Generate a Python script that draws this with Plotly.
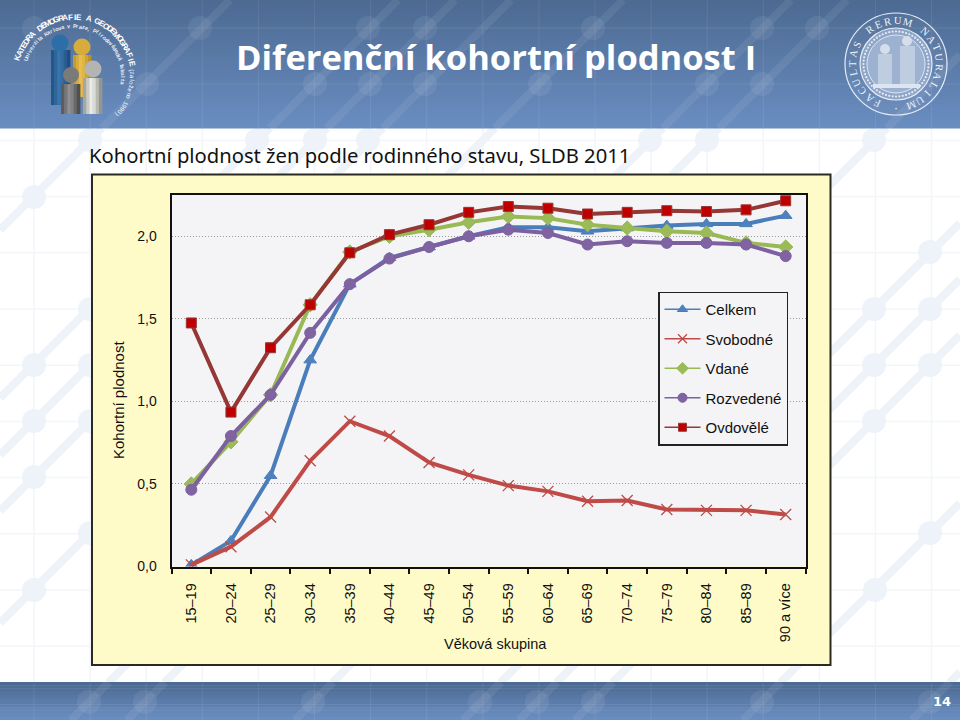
import math
import plotly.graph_objects as go

categories = ["15–19", "20–24", "25–29", "30–34", "35–39", "40–44", "45–49", "50–54",
              "55–59", "60–64", "65–69", "70–74", "75–79", "80–84", "85–89", "90 a více"]
celkem = [0.01, 0.155, 0.55, 1.25, 1.71, 1.87, 1.935, 2.0, 2.055, 2.055, 2.03, 2.05, 2.065, 2.075, 2.075, 2.125]
svobodne = [0.01, 0.12, 0.30, 0.64, 0.88, 0.79, 0.63, 0.555, 0.49, 0.455, 0.395, 0.40, 0.345, 0.34, 0.34, 0.315]
vdane = [0.50, 0.755, 1.04, 1.585, 1.905, 2.0, 2.04, 2.085, 2.12, 2.11, 2.07, 2.05, 2.03, 2.02, 1.96, 1.935]
rozvedene = [0.465, 0.79, 1.04, 1.415, 1.71, 1.865, 1.935, 2.0, 2.04, 2.02, 1.95, 1.97, 1.96, 1.96, 1.95, 1.88]
ovdovele = [1.475, 0.935, 1.325, 1.585, 1.90, 2.01, 2.07, 2.145, 2.18, 2.17, 2.135, 2.145, 2.155, 2.15, 2.16, 2.215]
y_ticks = [0, 0.5, 1.0, 1.5, 2.0]
y_labels = ["0,0", "0,5", "1,0", "1,5", "2,0"]

W, H = 960, 720
shapes, notes = [], []


def px(x):
    return x / W


def py(y):
    return 1 - y / H


def rect(x0, y0, x1, y1, fill, line=None, lw=0):
    shapes.append(dict(type="rect", xref="paper", yref="paper", layer="below",
                       x0=px(x0), x1=px(x1), y0=py(y1), y1=py(y0), fillcolor=fill,
                       line=dict(color=line or "rgba(0,0,0,0)", width=lw)))


def circle(cx, cy, r, fill, line=None, lw=0):
    shapes.append(dict(type="circle", xref="paper", yref="paper", layer="below",
                       x0=px(cx - r), x1=px(cx + r), y0=py(cy + r), y1=py(cy - r), fillcolor=fill,
                       line=dict(color=line or "rgba(0,0,0,0)", width=lw)))


def seg(x0, y0, x1, y1, color, w):
    shapes.append(dict(type="line", xref="paper", yref="paper", layer="below",
                       x0=px(x0), x1=px(x1), y0=py(y0), y1=py(y1), line=dict(color=color, width=w)))


def text(x, y, s, size, color, family="Liberation Sans", angle=0, anchor="center", bold=False):
    notes.append(dict(xref="paper", yref="paper", x=px(x), y=py(y), text=f"<b>{s}</b>" if bold else s,
                      showarrow=False, xanchor=anchor, yanchor="middle", textangle=angle,
                      font=dict(size=size, color=color, family=family)))


def arc_text(s, cx, cy, r, a0, a1, size, color, family="Liberation Sans", bold=False):
    n = len(s)
    for i, ch in enumerate(s):
        if ch == " ":
            continue
        a = a0 + (a1 - a0) * i / (n - 1)
        t = math.radians(a)
        ang = a % 360
        if ang > 180:
            ang -= 360
        text(cx + r * math.sin(t), cy - r * math.cos(t), ch, size, color, family, ang, bold=bold)


def cylinder(x0, y0, x1, y1, edge, mid):
    n = 6
    for i in range(n):
        f = abs(i - (n - 1) * 0.45) / ((n - 1) * 0.55)
        c = [round(mid[k] + (edge[k] - mid[k]) * min(f, 1)) for k in range(3)]
        a = x0 + (x1 - x0) * i / n
        rect(a, y0, a + (x1 - x0) / n + 0.4, y1, f"rgb({c[0]},{c[1]},{c[2]})")


# page background pattern
GX = [34 + 56.1 * k for k in range(17)]
GY = [28 + 56.2 * k for k in range(13)]
DIAG = [230, 398, 455, 511, 623, 791, 847, 1015, 1183, 1239, 1295, 1463, 1632]
for gx in GX:
    seg(gx, 128, gx, 683, "#F3F5F8", 1.5)
for gy in GY[2:12]:
    seg(0, gy, W, gy, "#F3F5F8", 1.5)
for c in DIAG:
    y0 = min(c, 683)
    seg(c - y0, y0, c - 128 if c - 128 < W else W, 128 if c - 128 < W else c - W, "#EEF2F9", 8)
BODY_NODES = [(34, 197), (90, 140), (257, 140), (315, 140), (368, 140), (650, 140), (707, 140), (874, 140),
              (90, 309), (34, 365), (90, 365), (34, 421), (90, 421), (34, 477), (90, 533), (34, 590),
              (930, 252), (874, 309), (930, 309), (874, 365), (930, 365), (874, 421), (930, 533), (875, 590)]
for nx, ny in BODY_NODES:
    circle(nx, ny, 12, "#EEF2F9")


def band(y0, y1, top, bottom, steps):
    for i in range(steps):
        f = i / (steps - 1)
        c = [round(top[k] + (bottom[k] - top[k]) * f) for k in range(3)]
        a = y0 + (y1 - y0) * i / steps
        b = y0 + (y1 - y0) * (i + 1) / steps + 0.5
        rect(0, a, W, b, f"rgb({c[0]},{c[1]},{c[2]})")


band(0, 128, (76, 106, 146), (106, 141, 192), 32)
band(682, 720, (76, 106, 146), (106, 141, 192), 12)
for gx in GX:
    seg(gx, 0, gx, 128, "rgba(255,255,255,0.07)", 1.2)
    seg(gx, 682, gx, 720, "rgba(255,255,255,0.07)", 1.2)
for gy in (28, 84, 710):
    seg(0, gy, W, gy, "rgba(255,255,255,0.09)", 1.2)
for c in DIAG:
    if c < W + 128:
        y1 = max(0, c - W)
        seg(c - 128, 128, c - y1, y1, "rgba(255,255,255,0.07)", 8)
    if c - 720 < W and c - 682 > 0:
        seg(c - 720, 720, min(c - 682, W), 682, "rgba(255,255,255,0.07)", 8)
HEAD_NODES = [(34, 28), (200, 28), (368, 28), (425, 28), (593, 28), (762, 28), (817, 28),
              (147, 84), (315, 84), (370, 84), (425, 84), (540, 84), (707, 84), (762, 84),
              (89, 702), (145, 702), (313, 702), (480, 702), (537, 702), (593, 702), (762, 702), (930, 702)]
for nx, ny in HEAD_NODES:
    circle(nx, ny, 12, "rgba(255,255,255,0.07)")

# department logo
cylinder(51, 50, 70, 105, (32, 78, 130), (60, 120, 175))
circle(60, 43, 8.5, "#2C6FA8")
cylinder(73, 55, 91, 97, (190, 145, 40), (235, 195, 80))
circle(82, 47, 8.5, "#D8AC3C")
cylinder(61, 84, 80, 114, (80, 80, 80), (150, 150, 150))
circle(71, 75, 8, "#7A7A7A")
cylinder(83, 78, 102, 114, (150, 150, 145), (245, 245, 240))
circle(93, 69, 8.5, "#B4B4B2")
arc_text("KATEDRA DEMOGRAFIE A GEODEMOGRAFIE", 74, 76, 59, -72, 78, 8, "white", "Liberation Sans", True)
arc_text("(založeno 1990)", 74, 76, 58, 84, 132, 6, "white")
arc_text("Univerzita Karlova v Praze, Přírodovědecká fakulta", 73, 76, 50, -70, 98, 5.5, "#E8EEF6", bold=True)

# faculty seal
circle(896, 64, 51, "rgba(255,255,255,0.04)", "#E6ECF5", 1.2)
circle(896, 64, 36, "#8EA5C8", "#E6ECF5", 1.2)
for k in range(60):
    t = math.radians(6 * k)
    circle(896 + 32.5 * math.sin(t), 64 - 32.5 * math.cos(t), 1.1, "#E6ECF5")
circle(896, 64, 29, "#9DB2D1", "#DCE5F1", 1)
rect(878, 54, 892, 84, "#BFCDE0")
rect(900, 46, 915, 84, "#BFCDE0")
circle(885, 49, 5, "#D5DEEB")
circle(907, 41, 5, "#D5DEEB")
rect(873, 84, 920, 88, "#DDE5F0")
arc_text("FACULTAS RERUM NATURALIUM", 896, 64, 43.5, 205, 520, 10.5, "#F0F4FA", "Liberation Serif")
text(896, 108, "·", 12, "#F0F4FA")

# chart panel
rect(92, 174.5, 830.5, 665, "#FFFBC9", "#2A2A22", 2)
rect(171.5, 195, 805.5, 566.5, "#F4F4F6")

# slide texts
text(496, 57, "Diferenční kohortní plodnost I", 34.5, "white", "Open Sans", bold=True)
text(87, 155, "Kohortní plodnost žen podle rodinného stavu, SLDB 2011", 20.2, "#111111", "Noto Sans", anchor="left")
text(942, 701, "14", 13, "white", "DejaVu Sans", bold=True)
text(118, 400, "Kohortní plodnost", 15, "#111111", angle=-90)
text(495, 644, "Věková skupina", 14.5, "#111111")

SERIES = [
    ("Celkem", celkem, "#4A7EBB", dict(symbol="triangle-up", size=11, color="#4F81BD", line=dict(color="#4A7EBB", width=1))),
    ("Svobodné", svobodne, "#BE4B48", dict(symbol="x-thin", size=11, color="#BE4B48", line=dict(color="#BE4B48", width=1.3))),
    ("Vdané", vdane, "#98B954", dict(symbol="diamond", size=11, color="#9BBB59", line=dict(color="#98B954", width=1))),
    ("Rozvedené", rozvedene, "#7D60A0", dict(symbol="circle", size=11, color="#8064A2", line=dict(color="#7D60A0", width=1))),
    ("Ovdovělé", ovdovele, "#953735", dict(symbol="square", size=10, color="#C00000", line=dict(color="#953735", width=1))),
]

fig = go.Figure()
for name, vals, col, mk in SERIES:
    fig.add_trace(go.Scatter(x=categories, y=vals, name=name, mode="lines+markers",
                             showlegend=False, line=dict(color=col, width=4), marker=mk))
for name, vals, col, mk in SERIES:
    small = dict(mk, size=mk["size"] - 2)
    fig.add_trace(go.Scatter(x=[None], y=[None], name=name, mode="lines+markers", legendgroup=name,
                             line=dict(color=col, width=1.5), marker=small))

fig.update_layout(
    width=W, height=H + 8, autosize=False, margin=dict(l=0, r=0, t=0, b=0),
    paper_bgcolor="white", plot_bgcolor="rgba(0,0,0,0)",
    font=dict(family="Liberation Sans", size=14, color="#111111"),
    shapes=shapes, annotations=notes,
    showlegend=True,
    legend=dict(x=658 / W, y=py(291.5), xanchor="left", yanchor="top", bgcolor="#F4F4F6",
                bordercolor="#222222", borderwidth=1.5, tracegroupgap=7, itemwidth=36,
                entrywidth=76, entrywidthmode="pixels",
                traceorder="grouped", font=dict(size=15, color="#111111"), itemsizing="trace"),
    xaxis=dict(domain=[171.5 / W, 805.5 / W], range=[-0.5, 15.5], type="category",
               categoryorder="array", categoryarray=categories, tickson="boundaries",
               tickmode="array", tickvals=categories, ticktext=categories,
               ticks="outside", ticklen=5, tickwidth=1.5, tickcolor="#111111", tickangle=-90,
               ticklabelstandoff=9,
               showgrid=False, showline=True, linecolor="#111111", linewidth=2, mirror=True,
               tickfont=dict(size=14.5)),
    yaxis=dict(domain=[py(566.5), py(195)], range=[0, 2.25], tickmode="array", tickvals=y_ticks,
               ticktext=y_labels, ticks="", showline=True, linecolor="#111111", linewidth=2, mirror=True,
               showgrid=True, gridcolor="#999999", griddash="1px,2px", gridwidth=1, zeroline=False,
               ticklabelstandoff=10, tickfont=dict(size=14)),
)

fig.write_html("out.html", config=dict(displayModeBar=False),
               post_script="document.body.style.margin='0';document.body.style.overflow='hidden';")
